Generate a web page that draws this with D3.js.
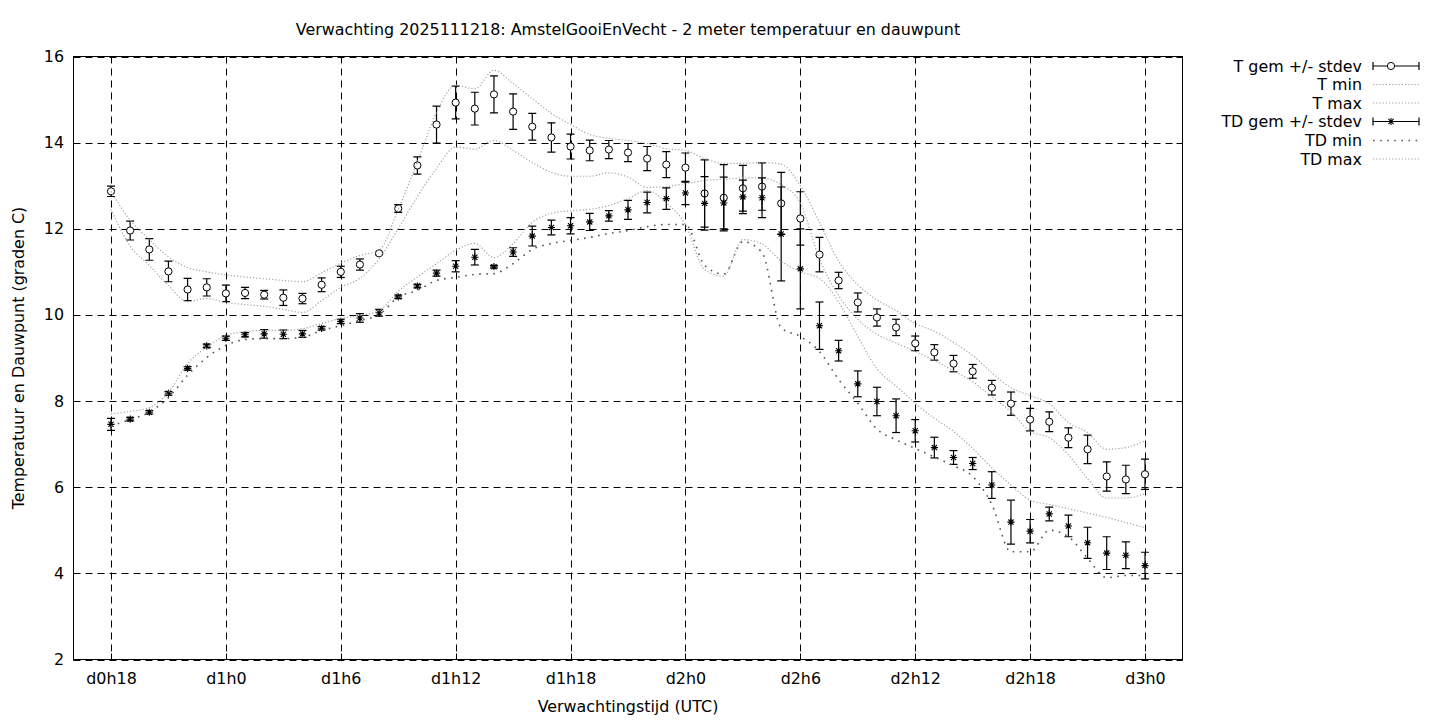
<!DOCTYPE html>
<html lang="nl">
<head>
<meta charset="UTF-8">
<title>Verwachting temperatuur en dauwpunt</title>
<script src="https://cdn.jsdelivr.net/npm/d3@7"></script>
<style>
  body { margin: 0; background: #fff; }
  text { font-family: "DejaVu Sans", sans-serif; fill: #000; }
</style>
</head>
<body>
<script>

// forecast hours (hours since d0h0)
var hours = [18, 19, 20, 21, 22, 23, 24, 25, 26, 27, 28, 29, 30, 31, 32, 33, 34, 35, 36,
    37, 38, 39, 40, 41, 42, 43, 44, 45, 46, 47, 48, 49, 50, 51, 52, 53, 54, 55, 56,
    57, 58, 59, 60, 61, 62, 63, 64, 65, 66, 67, 68, 69, 70, 71, 72];

// temperature: mean and stdev
var tMean = [12.87, 11.96, 11.52, 11.01, 10.59, 10.64, 10.50, 10.51, 10.47, 10.40, 10.38, 10.70, 11.00, 11.17, 11.43, 12.47, 13.47, 14.42, 14.93,
    14.79, 15.12, 14.72, 14.37, 14.12, 13.91, 13.82, 13.84, 13.77, 13.63, 13.49, 13.42, 12.82, 12.72, 12.94, 12.98, 12.59, 12.24, 11.40, 10.80,
    10.29, 9.94, 9.71, 9.34, 9.13, 8.87, 8.69, 8.31, 7.94, 7.57, 7.52, 7.15, 6.88, 6.25, 6.18, 6.30];
var tSd = [0.12, 0.22, 0.25, 0.24, 0.26, 0.20, 0.19, 0.13, 0.10, 0.18, 0.12, 0.16, 0.13, 0.13, 0.03, 0.09, 0.20, 0.43, 0.38,
    0.38, 0.43, 0.41, 0.31, 0.34, 0.29, 0.24, 0.21, 0.21, 0.28, 0.30, 0.34, 0.78, 0.77, 0.53, 0.55, 0.72, 0.62, 0.40, 0.19,
    0.22, 0.20, 0.19, 0.17, 0.18, 0.19, 0.16, 0.17, 0.27, 0.26, 0.23, 0.23, 0.33, 0.34, 0.33, 0.35];
var tMin = [12.45, 11.60, 11.15, 10.68, 10.31, 10.38, 10.29, 10.24, 10.20, 10.13, 10.06, 10.33, 10.64, 10.85, 11.30, 12.00, 12.75, 13.40, 13.90,
    13.85, 14.05, 13.82, 13.54, 13.31, 13.22, 13.22, 13.30, 13.20, 12.96, 12.98, 13.05, 13.12, 13.15, 13.18, 13.18, 13.02, 12.60, 11.30, 10.45,
    9.90, 9.55, 9.35, 9.15, 8.95, 8.70, 8.45, 8.10, 7.75, 7.30, 7.15, 6.75, 6.20, 5.75, 5.75, 5.85];
var tMax = [12.87, 12.20, 11.75, 11.35, 11.10, 11.00, 10.93, 10.88, 10.84, 10.80, 10.77, 10.98, 11.20, 11.38, 11.50, 12.45, 13.55, 14.70, 15.33,
    15.25, 15.68, 15.37, 15.02, 14.68, 14.42, 14.19, 14.10, 14.05, 13.98, 13.86, 13.82, 13.63, 13.52, 13.52, 13.54, 13.50, 13.00, 12.15, 11.25,
    10.70, 10.35, 10.10, 9.80, 9.62, 9.36, 9.06, 8.66, 8.31, 8.13, 7.94, 7.50, 7.27, 6.88, 6.92, 7.08];

// dewpoint: mean and stdev
var tdMean = [7.46, 7.58, 7.74, 8.18, 8.76, 9.28, 9.46, 9.54, 9.56, 9.55, 9.56, 9.69, 9.85, 9.93, 10.05, 10.42, 10.67, 10.97, 11.13,
    11.34, 11.12, 11.46, 11.83, 12.03, 12.07, 12.16, 12.30, 12.44, 12.61, 12.70, 12.83, 12.59, 12.60, 12.74, 12.72, 11.88, 11.07, 9.75, 9.17,
    8.40, 7.99, 7.66, 7.31, 6.92, 6.69, 6.55, 6.05, 5.19, 4.98, 5.38, 5.10, 4.71, 4.47, 4.42, 4.18];
var tdSd = [0.14, 0.04, 0.04, 0.04, 0.04, 0.04, 0.05, 0.05, 0.10, 0.10, 0.08, 0.04, 0.05, 0.10, 0.08, 0.04, 0.04, 0.07, 0.13,
    0.18, 0.03, 0.10, 0.23, 0.17, 0.19, 0.20, 0.12, 0.22, 0.24, 0.25, 0.27, 0.62, 0.60, 0.39, 0.46, 1.09, 0.93, 0.55, 0.24,
    0.30, 0.33, 0.39, 0.26, 0.24, 0.16, 0.14, 0.31, 0.51, 0.27, 0.16, 0.25, 0.36, 0.38, 0.31, 0.31];
var tdMin = [7.42, 7.57, 7.74, 8.08, 8.60, 9.01, 9.29, 9.43, 9.45, 9.45, 9.48, 9.64, 9.75, 9.87, 10.01, 10.41, 10.57, 10.80, 10.87,
    10.94, 10.96, 11.19, 11.52, 11.66, 11.73, 11.80, 11.89, 11.96, 12.05, 12.10, 12.10, 11.15, 10.95, 11.70, 11.45, 9.70, 9.50, 9.15, 8.50,
    7.95, 7.35, 7.10, 6.90, 6.70, 6.50, 6.25, 5.60, 4.50, 4.50, 5.00, 4.85, 4.35, 3.90, 3.95, 3.95];
var tdMax = [7.70, 7.76, 7.85, 8.20, 8.87, 9.25, 9.52, 9.61, 9.64, 9.64, 9.68, 9.80, 9.92, 9.99, 10.10, 10.55, 10.88, 11.19, 11.50,
    11.66, 11.33, 11.66, 12.15, 12.36, 12.42, 12.45, 12.54, 12.70, 12.89, 12.60, 12.10, 11.05, 10.90, 11.75, 11.65, 11.25, 11.00, 10.85, 10.30,
    9.50, 8.75, 8.35, 7.95, 7.60, 7.30, 6.90, 6.45, 6.05, 5.70, 5.60, 5.50, 5.40, 5.30, 5.18, 5.06];

// ticks
var xTickHours = [18, 24, 30, 36, 42, 48, 54, 60, 66, 72];
var xTickLabels = ["d0h18", "d1h0", "d1h6", "d1h12", "d1h18", "d2h0", "d2h6", "d2h12", "d2h18", "d3h0"];
var yTicks = [2, 4, 6, 8, 10, 12, 14, 16];

var legendLabels = ["T gem +/- stdev", "T min", "T max", "TD gem +/- stdev", "TD min", "TD max"];

//Width, height and plot box
var w = 1440, h = 720;
var pL = 73.5, pR = 1182.5, pT = 56.5, pB = 659.5;
var fontSize = 15.9;

var svg = d3.select("body")
    .append("svg")
    .attr("width", w)
    .attr("height", h);

// x: forecast hour -> pixel (frame spans a little beyond the first and last tick)
var x = d3.scaleLinear().domain([18, 72]).range([111, 1145]);
var y = d3.scaleLinear().domain([2, 16]).range([pB, pT]);

svg.append("clipPath").attr("id", "plotclip")
    .append("rect")
    .attr("x", pL).attr("y", pT)
    .attr("width", pR - pL).attr("height", pB - pT);

// grid
svg.selectAll("line.gx")
    .data(xTickHours)
    .enter().append("line")
    .attr("class", "gx")
    .attr("x1", function(d) { return Math.round(x(d)) + 0.5; })
    .attr("x2", function(d) { return Math.round(x(d)) + 0.5; })
    .attr("y1", pT).attr("y2", pB)
    .attr("stroke", "#000").attr("stroke-width", 1)
    .attr("stroke-dasharray", "7,5");
svg.selectAll("line.gy")
    .data(yTicks)
    .enter().append("line")
    .attr("class", "gy")
    .attr("x1", pL).attr("x2", pR)
    .attr("y1", function(d) { return Math.round(y(d)) + 0.5; })
    .attr("y2", function(d) { return Math.round(y(d)) + 0.5; })
    .attr("stroke", "#000").attr("stroke-width", 1)
    .attr("stroke-dasharray", "7,5");

// ticks (inward, mirrored)
var tl = 6;
yTicks.forEach(function(v) {
    var yy = Math.round(y(v)) + 0.5;
    svg.append("line").attr("x1", pL).attr("x2", pL + tl).attr("y1", yy).attr("y2", yy).attr("stroke", "#000");
    svg.append("line").attr("x1", pR).attr("x2", pR - tl).attr("y1", yy).attr("y2", yy).attr("stroke", "#000");
});
xTickHours.forEach(function(v) {
    var xx = Math.round(x(v)) + 0.5;
    svg.append("line").attr("x1", xx).attr("x2", xx).attr("y1", pB).attr("y2", pB - tl).attr("stroke", "#000");
    svg.append("line").attr("x1", xx).attr("x2", xx).attr("y1", pT).attr("y2", pT + tl).attr("stroke", "#000");
});

// tick labels
svg.selectAll("text.yl")
    .data(yTicks)
    .enter().append("text")
    .attr("class", "yl")
    .attr("x", 64)
    .attr("y", function(d) { return y(d) + 5.5; })
    .attr("text-anchor", "end")
    .attr("font-size", fontSize)
    .text(function(d) { return d; });
svg.selectAll("text.xl")
    .data(xTickHours)
    .enter().append("text")
    .attr("class", "xl")
    .attr("x", function(d) { return x(d) + 0.5; })
    .attr("y", 684)
    .attr("text-anchor", "middle")
    .attr("font-size", fontSize)
    .text(function(d, i) { return xTickLabels[i]; });

// titles
svg.append("text")
    .attr("x", 628).attr("y", 34.5)
    .attr("text-anchor", "middle").attr("font-size", fontSize)
    .text("Verwachting 2025111218: AmstelGooiEnVecht - 2 meter temperatuur en dauwpunt");
svg.append("text")
    .attr("x", 628).attr("y", 712)
    .attr("text-anchor", "middle").attr("font-size", fontSize)
    .text("Verwachtingstijd (UTC)");
svg.append("text")
    .attr("transform", "translate(24," + (pT + pB) / 2 + ") rotate(-90)")
    .attr("text-anchor", "middle").attr("font-size", fontSize)
    .text("Temperatuur en Dauwpunt (graden C)");

var plot = svg.append("g").attr("clip-path", "url(#plotclip)");

// styles for the min / max curves
var dense = { stroke: "#a2a2a2", width: 1.2, dash: "1.2,2" };
var sparse = { stroke: "#555", width: 1.6, dash: "1.6,5.5" };

function curve(values, st) {
    var line = d3.line()
        .x(function(d, i) { return x(hours[i]); })
        .y(function(d) { return y(d); })
        .curve(d3.curveMonotoneX);
    plot.append("path")
        .datum(values)
        .attr("d", line)
        .attr("fill", "none")
        .attr("stroke", st.stroke)
        .attr("stroke-width", st.width)
        .attr("stroke-dasharray", st.dash);
}

function errorBars(mean, sd) {
    var g = plot.append("g").attr("stroke", "#000").attr("stroke-width", 1.2);
    mean.forEach(function(m, i) {
        var xx = x(hours[i]);
        var y1 = y(m - sd[i]), y2 = y(m + sd[i]);
        g.append("line").attr("x1", xx).attr("x2", xx).attr("y1", y1).attr("y2", y2);
        g.append("line").attr("x1", xx - 4).attr("x2", xx + 4).attr("y1", y1).attr("y2", y1);
        g.append("line").attr("x1", xx - 4).attr("x2", xx + 4).attr("y1", y2).attr("y2", y2);
    });
}

function circleAt(g, cx, cy) {
    g.append("circle").attr("cx", cx).attr("cy", cy).attr("r", 3.6)
        .attr("fill", "#fff").attr("stroke", "#000").attr("stroke-width", 1);
}
function starAt(g, cx, cy) {
    var s = 3.6, d = 2.6;
    g.append("path")
        .attr("d", "M" + (cx - s) + "," + cy + "H" + (cx + s) +
            "M" + cx + "," + (cy - s) + "V" + (cy + s) +
            "M" + (cx - d) + "," + (cy - d) + "L" + (cx + d) + "," + (cy + d) +
            "M" + (cx - d) + "," + (cy + d) + "L" + (cx + d) + "," + (cy - d))
        .attr("stroke", "#000").attr("stroke-width", 1.1).attr("fill", "none");
}

// temperature
errorBars(tMean, tSd);
var tp = plot.append("g");
tMean.forEach(function(m, i) { circleAt(tp, x(hours[i]), y(m)); });
curve(tMin, dense);
curve(tMax, dense);

// dewpoint
errorBars(tdMean, tdSd);
var tdp = plot.append("g");
tdMean.forEach(function(m, i) { starAt(tdp, x(hours[i]), y(m)); });
curve(tdMin, sparse);
curve(tdMax, dense);

// frame
svg.append("rect")
    .attr("x", pL).attr("y", pT)
    .attr("width", pR - pL).attr("height", pB - pT)
    .attr("fill", "none").attr("stroke", "#000").attr("stroke-width", 1);

// legend
var lx0 = 1373, lx1 = 1419, lmid = 1391;
var rowY = [66, 84.5, 103, 121.5, 140.5, 159];
var lg = svg.append("g");
legendLabels.forEach(function(lab, i) {
    lg.append("text")
        .attr("x", 1362).attr("y", rowY[i] + 5.5)
        .attr("text-anchor", "end").attr("font-size", fontSize)
        .text(lab);
});
[0, 3].forEach(function(i) {
    var yy = rowY[i];
    lg.append("line").attr("x1", lx0).attr("x2", lx1).attr("y1", yy).attr("y2", yy).attr("stroke", "#000").attr("stroke-width", 1.2);
    lg.append("line").attr("x1", lx0).attr("x2", lx0).attr("y1", yy - 4).attr("y2", yy + 4).attr("stroke", "#000").attr("stroke-width", 1.2);
    lg.append("line").attr("x1", lx1).attr("x2", lx1).attr("y1", yy - 4).attr("y2", yy + 4).attr("stroke", "#000").attr("stroke-width", 1.2);
});
circleAt(lg, lmid, rowY[0]);
starAt(lg, lmid, rowY[3]);
[[1, dense], [2, dense], [4, sparse], [5, dense]].forEach(function(p) {
    var st = p[1];
    lg.append("line").attr("x1", lx0).attr("x2", lx1)
        .attr("y1", rowY[p[0]]).attr("y2", rowY[p[0]])
        .attr("stroke", st.stroke).attr("stroke-width", st.width)
        .attr("stroke-dasharray", st.dash);
});

</script>
</body>
</html>
